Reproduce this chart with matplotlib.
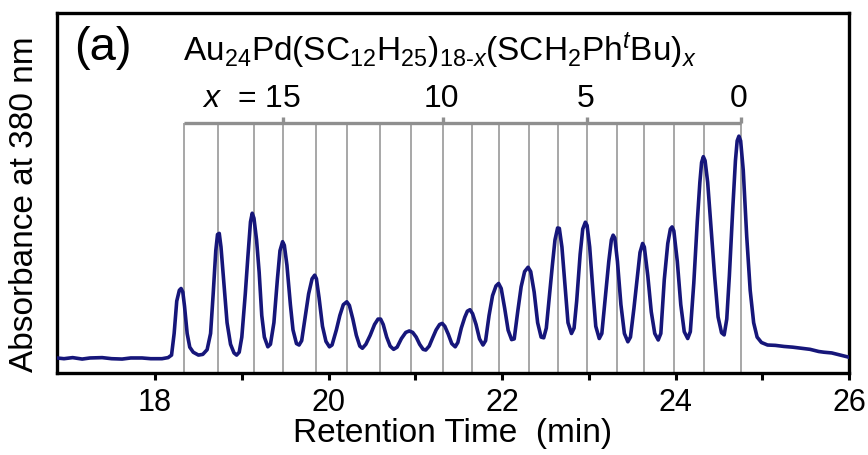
import matplotlib
matplotlib.use("Agg")
import matplotlib.pyplot as plt
from matplotlib.ticker import FixedLocator, MultipleLocator

plt.rcParams["font.family"] = "Liberation Sans"
plt.rcParams["mathtext.fontset"] = "custom"
plt.rcParams["mathtext.rm"] = "Liberation Sans"
plt.rcParams["mathtext.it"] = "Liberation Sans:italic"

# chromatogram trace (retention time in min, absorbance in a.u.)
# one row per peak, the rows of both lists line up
time_min = [
    16.87, 16.95, 17.05, 17.16, 17.25, 17.39, 17.50, 17.62, 17.72, 17.85, 17.95, 18.08, 18.15, 18.19,
    18.22, 18.25, 18.28, 18.30, 18.32, 18.34, 18.37, 18.40, 18.44, 18.50, 18.55,
    18.60, 18.64, 18.67, 18.70, 18.72, 18.74, 18.76, 18.79, 18.83, 18.87, 18.91, 18.94, 18.97,
    19.00, 19.04, 19.07, 19.10, 19.12, 19.14, 19.17, 19.20, 19.23, 19.26, 19.30, 19.33,
    19.37, 19.41, 19.44, 19.47, 19.49, 19.52, 19.56, 19.59, 19.63, 19.66, 19.69,
    19.73, 19.77, 19.81, 19.84, 19.86, 19.89, 19.93, 19.97, 20.01, 20.04,
    20.09, 20.13, 20.17, 20.21, 20.24, 20.28, 20.32, 20.36, 20.39, 20.43,
    20.48, 20.53, 20.57, 20.60, 20.63, 20.67, 20.71, 20.75, 20.79,
    20.84, 20.89, 20.93, 20.97, 21.01, 21.05, 21.09, 21.12, 21.16,
    21.20, 21.24, 21.28, 21.31, 21.34, 21.38, 21.42, 21.46, 21.49,
    21.53, 21.57, 21.60, 21.63, 21.66, 21.70, 21.74, 21.78, 21.81,
    21.85, 21.89, 21.93, 21.96, 21.99, 22.03, 22.07, 22.11, 22.14,
    22.18, 22.22, 22.26, 22.30, 22.33, 22.37, 22.41, 22.45, 22.48, 22.51,
    22.54, 22.58, 22.61, 22.64, 22.66, 22.69, 22.73, 22.76, 22.80, 22.83,
    22.86, 22.90, 22.93, 22.96, 22.98, 23.01, 23.05, 23.08, 23.12, 23.15,
    23.19, 23.23, 23.26, 23.28, 23.30, 23.33, 23.37, 23.41, 23.45, 23.48,
    23.52, 23.56, 23.59, 23.62, 23.64, 23.68, 23.72, 23.76, 23.80, 23.83,
    23.87, 23.91, 23.94, 23.96, 23.98, 24.02, 24.06, 24.10, 24.14, 24.17,
    24.21, 24.25, 24.28, 24.30, 24.32, 24.34, 24.37, 24.41, 24.45, 24.49, 24.53, 24.56, 24.59,
    24.62, 24.66, 24.69, 24.71, 24.73, 24.75, 24.78, 24.82, 24.86, 24.90, 24.94, 24.99, 25.06,
    25.15, 25.25, 25.35, 25.45, 25.55, 25.65, 25.71, 25.80, 25.90, 25.98, 26.00,
]
absorbance = [
    0.042, 0.040, 0.043, 0.039, 0.042, 0.043, 0.040, 0.039, 0.042, 0.042, 0.040, 0.040, 0.043, 0.050,
    0.110, 0.200, 0.230, 0.235, 0.225, 0.185, 0.110, 0.072, 0.058, 0.050, 0.052,
    0.065, 0.110, 0.220, 0.340, 0.385, 0.388, 0.350, 0.260, 0.140, 0.080, 0.056, 0.050, 0.058,
    0.100, 0.220, 0.323, 0.420, 0.444, 0.430, 0.370, 0.280, 0.160, 0.100, 0.073, 0.080,
    0.140, 0.260, 0.340, 0.365, 0.355, 0.300, 0.190, 0.120, 0.082, 0.078, 0.090,
    0.156, 0.220, 0.262, 0.272, 0.262, 0.210, 0.130, 0.088, 0.073, 0.078,
    0.120, 0.160, 0.190, 0.198, 0.188, 0.150, 0.105, 0.075, 0.069, 0.080,
    0.105, 0.135, 0.150, 0.150, 0.135, 0.100, 0.075, 0.066, 0.072,
    0.096, 0.113, 0.117, 0.113, 0.100, 0.080, 0.066, 0.064, 0.075,
    0.098, 0.120, 0.135, 0.138, 0.130, 0.108, 0.082, 0.073, 0.085,
    0.125, 0.155, 0.172, 0.176, 0.165, 0.135, 0.095, 0.078, 0.090,
    0.160, 0.215, 0.242, 0.249, 0.235, 0.180, 0.119, 0.093, 0.095,
    0.170, 0.240, 0.282, 0.294, 0.282, 0.225, 0.140, 0.100, 0.098, 0.125,
    0.200, 0.300, 0.370, 0.403, 0.402, 0.350, 0.230, 0.140, 0.110, 0.125,
    0.200, 0.330, 0.400, 0.419, 0.410, 0.350, 0.220, 0.130, 0.096, 0.110,
    0.210, 0.310, 0.370, 0.383, 0.375, 0.310, 0.190, 0.110, 0.087, 0.100,
    0.180, 0.270, 0.335, 0.360, 0.350, 0.270, 0.170, 0.110, 0.092, 0.110,
    0.260, 0.360, 0.400, 0.406, 0.395, 0.310, 0.190, 0.115, 0.096, 0.115,
    0.250, 0.420, 0.530, 0.585, 0.601, 0.590, 0.530, 0.400, 0.270, 0.156, 0.112, 0.106, 0.150,
    0.270, 0.460, 0.590, 0.645, 0.658, 0.645, 0.564, 0.380, 0.230, 0.140, 0.100, 0.085, 0.078,
    0.077, 0.074, 0.072, 0.069, 0.066, 0.060, 0.058, 0.056, 0.050, 0.045, 0.044,
]

# peak positions for x = 18 ... 0
peak_times = [18.33, 18.73, 19.14, 19.47, 19.86, 20.21, 20.59, 20.95, 21.32,
              21.65, 21.96, 22.31, 22.65, 22.98, 23.32, 23.64, 23.98, 24.33, 24.75]
peak_x = list(range(18, -1, -1))
labeled_x = [15, 10, 5, 0]

fig = plt.figure(figsize=(8.68, 4.55), dpi=100)
ax = fig.add_axes([0.0657, 0.180, 0.9125, 0.7914])

bracket_y = 0.694
grey = "#8f8f8f"
ax.vlines(peak_times, 0, bracket_y, color=grey, lw=1.1, zorder=1)
ax.hlines(bracket_y, peak_times[0], peak_times[-1], color=grey, lw=2.4, zorder=1)
for xv in labeled_x:
    t = peak_times[peak_x.index(xv)]
    ax.vlines(t, bracket_y, bracket_y + 0.016, color=grey, lw=2.4, zorder=1)
    if xv == 15:
        ax.text(t + 0.21, 0.739, "$x$  = 15", ha="right", va="baseline", fontsize=23)
    else:
        ax.text(t - 0.02, 0.739, str(xv), ha="center", va="baseline", fontsize=23)

ax.plot(time_min, absorbance, color="#16167a", lw=2.6, zorder=3,
        solid_joinstyle="round")

ax.text(peak_times[0] - 0.01, 0.867,
        r"Au$_{24}$Pd(SC$_{12}$H$_{25}$)$_{18\text{-}x}$(SCH$_2$Ph$^{t}$Bu)$_{x}$",
        ha="left", va="baseline", fontsize=24)
ax.text(0.021, 0.903, "(a)", transform=ax.transAxes, ha="left", va="center",
        fontsize=34)

ax.set_xlim(16.87, 26)
ax.set_ylim(0, 1)
ax.xaxis.set_major_locator(MultipleLocator(2))
ax.xaxis.set_minor_locator(FixedLocator([19, 21, 23, 25]))
ax.tick_params(axis="x", which="both", direction="out", width=2.2, length=5,
               labelsize=22, pad=6)
ax.set_yticks([])
for s in ax.spines.values():
    s.set_linewidth(2.4)

ax.set_xlabel("Retention Time  (min)", fontsize=24)
ax.set_ylabel("Absorbance at 380 nm", fontsize=24)
ax.xaxis.set_label_coords(0.5, -0.125)
ax.yaxis.set_label_coords(-0.022, 0.47)

fig.savefig("out.png", dpi=100)
